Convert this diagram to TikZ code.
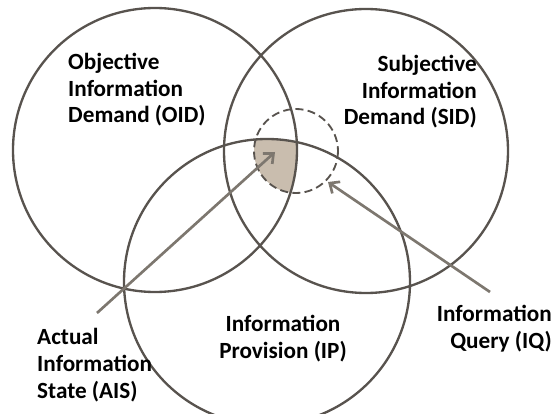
\documentclass[tikz,border=0pt]{standalone}
\usepackage{fontspec}
\setmainfont{Carlito}
\usetikzlibrary{arrows.meta}
\definecolor{ringgray}{RGB}{88,83,78}
\definecolor{arrowgray}{RGB}{125,119,111}
\definecolor{aisfill}{RGB}{201,189,174}
\tikzset{
  ring/.style={draw=ringgray, line width=0.7mm},
  queryring/.style={draw=ringgray, line width=0.55mm, dash pattern=on 2.4mm off 1.3mm},
  pointer/.style={draw=arrowgray, line width=0.8mm, -{Straight Barb[length=2.4mm,width=4.2mm]}},
  vennlabel/.style={inner sep=0pt, font=\fontsize{19.8pt}{23pt}\selectfont\bfseries}
}
\begin{document}
\begin{tikzpicture}[x=0.3mm, y=-0.3mm]
\useasboundingbox (0,0) rectangle (555,414);
\coordinate (oid) at (155,150);
\coordinate (sid) at (366,151);
\coordinate (ip) at (267,282);
\coordinate (iq) at (296,151);
% actual information state
\begin{scope}
\clip (oid) circle [radius=142];
\clip (ip) circle [radius=143];
\fill[aisfill] (iq) circle [radius=42];
\end{scope}
\draw[ring] (oid) circle [radius=142];
\draw[ring] (sid) circle [radius=142];
\draw[ring] (ip) circle [radius=143];
\draw[queryring] (iq) circle [radius=42];
% pointers
\coordinate (aistail) at (97,313);
\coordinate (aistip) at (275,152);
\coordinate (iqtail) at (490,292);
\coordinate (iqtip) at (328,182);
\draw[pointer] (aistail) -- (aistip);
\draw[pointer] (iqtail) -- (iqtip);
% labels (base = last line)
\node[vennlabel, anchor=base west, align=left] (oidtext) at (68,123) {Objective\\Information\\Demand (OID)};
\node[vennlabel, anchor=base east, align=right] (sidtext) at (477,125) {Subjective\\Information\\Demand (SID)};
\node[vennlabel, anchor=base, align=center] (iptext) at (283,358) {Information\\Provision (IP)};
\node[vennlabel, anchor=base west, align=left] (aistext) at (37,398) {Actual\\Information\\State (AIS)};
\node[vennlabel, anchor=base east, align=right] (iqtext) at (552,348) {Information\\Query (IQ)};
\end{tikzpicture}
\end{document}
